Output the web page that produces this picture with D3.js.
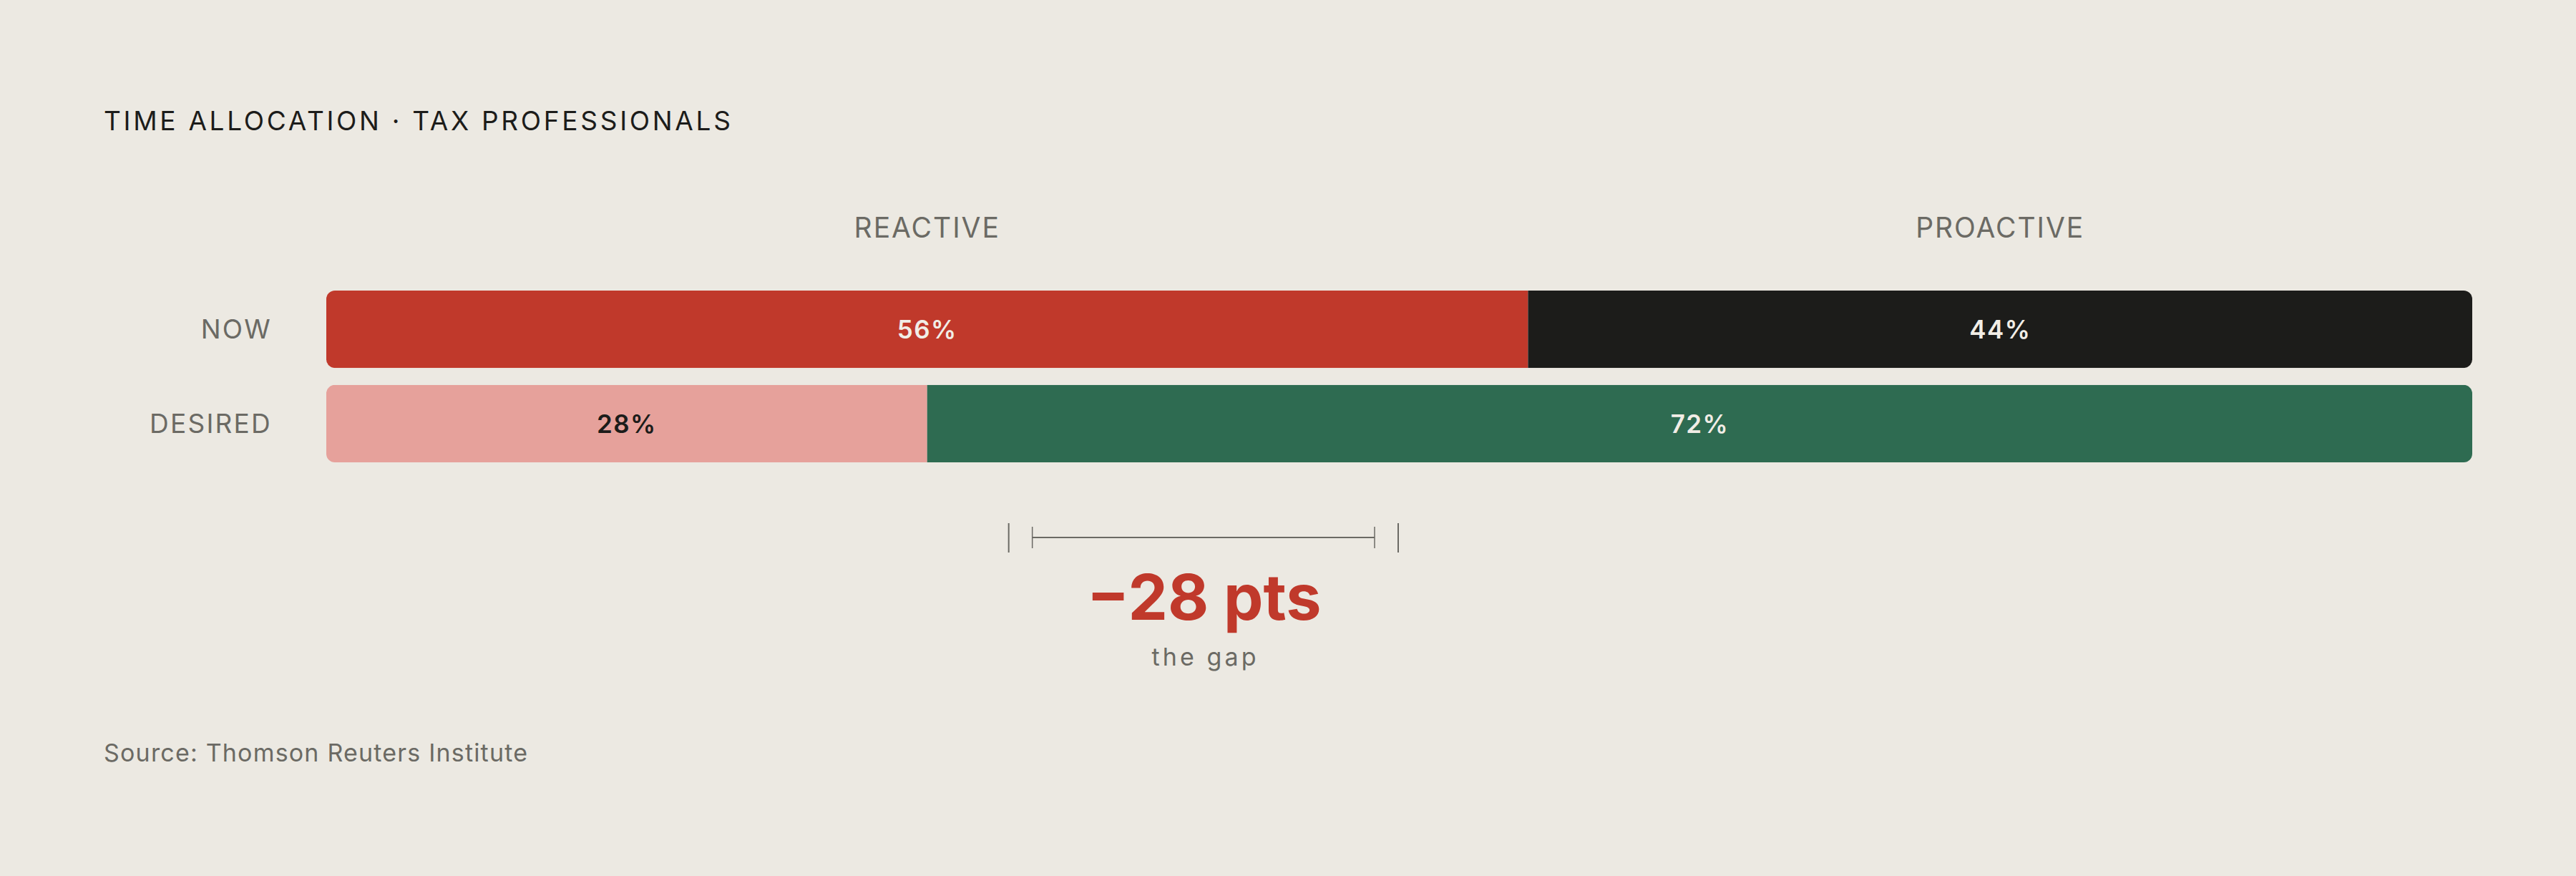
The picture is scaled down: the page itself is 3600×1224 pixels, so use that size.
<!DOCTYPE html>
<html>
<head>
<meta charset="utf-8">
<script src="https://cdn.jsdelivr.net/npm/d3@7"></script>
<style>
  html, body { margin: 0; padding: 0; background: #ece9e2; }
  svg { display: block; }
  text { font-family: Inter, "Noto Sans", sans-serif; }
</style>
</head>
<body>
<svg id="chart" width="3600" height="1224"></svg>
<script>
// ---- data ----
const rows = ["NOW", "DESIRED"];
const reactive = [56, 28];
const proactive = [44, 72];
const groupLabels = ["REACTIVE", "PROACTIVE"];
const title = "TIME ALLOCATION · TAX PROFESSIONALS";
const source = "Source: Thomson Reuters Institute";
const gapValue = reactive[1] - reactive[0];
const gapSub = "the gap";

// ---- layout ----
const W = 3600, H = 1224;
const C = {
  bg: "#ece9e2", ink: "#1c1c1a", gray: "#6b6a64",
  red: "#c0392b", black: "#1c1c1a", pink: "#e6a19b", green: "#2e6b51",
  light: "#f1ede6"
};
const svg = d3.select("#chart");
svg.append("rect").attr("width", W).attr("height", H).attr("fill", C.bg);

const x = d3.scaleLinear().domain([0, 100]).range([456, 3455]);
const y = d3.scaleBand().domain(rows).range([406, 646]).paddingInner(0.18).paddingOuter(0);

const table = rows.map((r, i) => ({
  row: r,
  segs: [
    { key: "reactive", v0: 0, v1: reactive[i], val: reactive[i] },
    { key: "proactive", v0: reactive[i], v1: reactive[i] + proactive[i], val: proactive[i] }
  ]
}));
const fills = {
  NOW: { reactive: C.red, proactive: C.black },
  DESIRED: { reactive: C.pink, proactive: C.green }
};
const labelFill = {
  NOW: { reactive: C.light, proactive: C.light },
  DESIRED: { reactive: C.ink, proactive: C.light }
};

// title
svg.append("text")
  .attr("x", 145).attr("y", 182)
  .attr("font-size", 37).attr("fill", C.ink)
  .attr("letter-spacing", "0.1em")
  .text(title);

// group headers centered over NOW segments
const nowSegs = table[0].segs;
svg.selectAll("text.group").data(groupLabels).join("text")
  .attr("class", "group")
  .attr("x", (d, i) => x((nowSegs[i].v0 + nowSegs[i].v1) / 2))
  .attr("y", 332)
  .attr("text-anchor", "middle")
  .attr("font-size", 39).attr("fill", C.gray)
  .attr("letter-spacing", "0.05em")
  .text(d => d);

// clip paths for rounded bars
const defs = svg.append("defs");
table.forEach((d, i) => {
  defs.append("clipPath").attr("id", "clip" + i)
    .append("rect")
    .attr("x", x(0)).attr("y", y(d.row))
    .attr("width", x(100) - x(0)).attr("height", y.bandwidth())
    .attr("rx", 12).attr("ry", 12);
});

const rowG = svg.selectAll("g.row").data(table).join("g")
  .attr("class", "row")
  .attr("clip-path", (d, i) => `url(#clip${i})`);

rowG.selectAll("rect").data(d => d.segs.map(s => ({ ...s, row: d.row }))).join("rect")
  .attr("x", s => x(s.v0))
  .attr("y", s => y(s.row))
  .attr("width", s => x(s.v1) - x(s.v0))
  .attr("height", y.bandwidth())
  .attr("fill", s => fills[s.row][s.key]);

// value labels
svg.selectAll("g.vals").data(table).join("g").attr("class", "vals")
  .selectAll("text").data(d => d.segs.map(s => ({ ...s, row: d.row }))).join("text")
  .attr("x", s => x((s.v0 + s.v1) / 2))
  .attr("y", s => y(s.row) + y.bandwidth() / 2)
  .attr("dy", "0.36em")
  .attr("text-anchor", "middle")
  .attr("font-size", 35).attr("font-weight", 600)
  .attr("letter-spacing", "0.04em")
  .attr("fill", s => labelFill[s.row][s.key])
  .text(s => s.val + "%");

// row labels
svg.selectAll("text.rowlab").data(rows).join("text")
  .attr("class", "rowlab")
  .attr("x", 380)
  .attr("y", r => y(r) + y.bandwidth() / 2)
  .attr("dy", "0.36em")
  .attr("text-anchor", "end")
  .attr("font-size", 37).attr("fill", C.gray)
  .attr("letter-spacing", "0.06em")
  .text(r => r);

// gap annotation
const gapCx = x(40.9);
const g = svg.append("g").attr("stroke", C.gray).attr("stroke-width", 2);
// outer ticks
[x(31.8), x(49.95)].forEach(px => {
  g.append("line").attr("x1", px).attr("x2", px).attr("y1", 731).attr("y2", 772);
});
// inner bracket
const bi0 = x(32.9), bi1 = x(48.85);
g.append("line").attr("x1", bi0).attr("x2", bi1).attr("y1", 751).attr("y2", 751);
[bi0, bi1].forEach(px => {
  g.append("line").attr("x1", px).attr("x2", px).attr("y1", 736).attr("y2", 766).attr("stroke-width", 1.5);
});

svg.append("text")
  .attr("x", gapCx).attr("y", 866)
  .attr("text-anchor", "middle")
  .attr("font-size", 88).attr("font-weight", 700)
  .attr("fill", C.red)
  .text("\u2212" + Math.abs(gapValue) + " pts");

svg.append("text")
  .attr("x", gapCx + 2).attr("y", 930)
  .attr("text-anchor", "middle")
  .attr("font-size", 34).attr("fill", C.gray)
  .attr("letter-spacing", "0.12em")
  .text(gapSub);

// source
svg.append("text")
  .attr("x", 145).attr("y", 1064)
  .attr("font-size", 34).attr("fill", C.gray)
  .attr("letter-spacing", "0.035em")
  .text(source);
</script>
</body>
</html>
